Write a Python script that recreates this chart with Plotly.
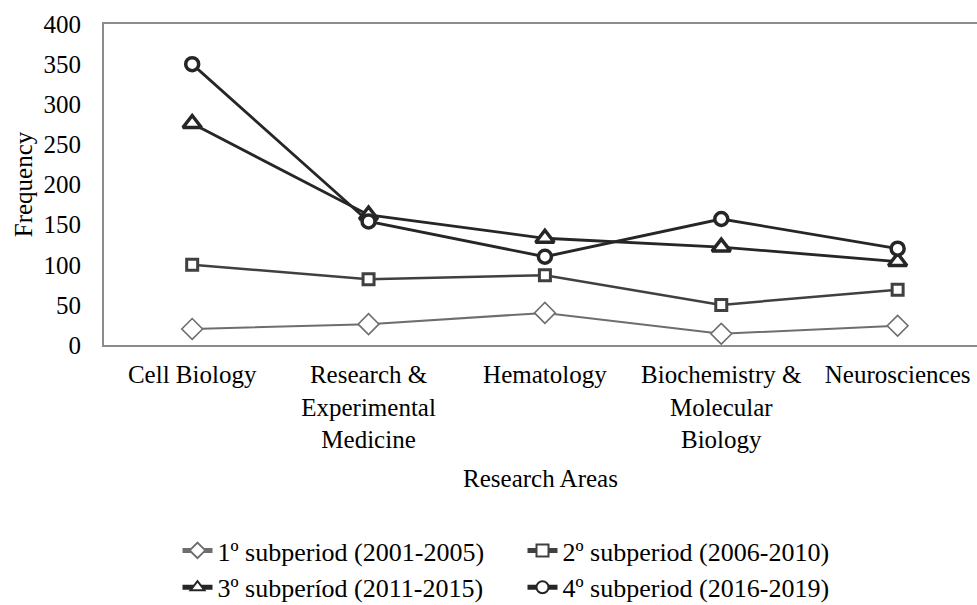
import plotly.graph_objects as go

categories = ["Cell Biology", "Research &<br>Experimental<br>Medicine", "Hematology",
              "Biochemistry &<br>Molecular<br>Biology", "Neurosciences"]
s1_name = "1º subperiod (2001-2005)"
s2_name = "2º subperiod (2006-2010)"
s3_name = "3º subperíod (2011-2015)"
s4_name = "4º subperiod (2016-2019)"
s1 = [20, 26, 40, 14, 24]
s2 = [100, 82, 87, 50, 69]
s3 = [276, 162, 133, 122, 104]
s4 = [350, 154, 110, 157, 120]
y_ticks = [0, 50, 100, 150, 200, 250, 300, 350, 400]

FONT = "Liberation Serif"
FS = 25

fig = go.Figure()
fig.add_trace(go.Scatter(x=categories, y=s1, name=s1_name, mode="lines+markers",
                         line=dict(color="#6e6e6e", width=2),
                         marker=dict(symbol="diamond", size=16, color="white",
                                     line=dict(color="#6e6e6e", width=1.6))))
fig.add_trace(go.Scatter(x=categories, y=s2, name=s2_name, mode="lines+markers",
                         line=dict(color="#404040", width=2.5),
                         marker=dict(symbol="square", size=11, color="white",
                                     line=dict(color="#404040", width=3))))
fig.add_trace(go.Scatter(x=categories, y=s3, name=s3_name, mode="lines+markers",
                         line=dict(color="#262626", width=2.8),
                         marker=dict(symbol="triangle-up", size=16, color="white",
                                     line=dict(color="#262626", width=3.5))))
fig.add_trace(go.Scatter(x=categories, y=s4, name=s4_name, mode="lines+markers",
                         line=dict(color="#262626", width=2.8),
                         marker=dict(symbol="circle", size=13, color="white",
                                     line=dict(color="#262626", width=3.5))))

fig.update_layout(
    width=977, height=605,
    margin=dict(l=104, r=0, t=24, b=260, autoexpand=False),
    paper_bgcolor="white", plot_bgcolor="white",
    font=dict(family=FONT, size=FS, color="black"),
    showlegend=True,
    legend=dict(orientation="h", xref="container", yref="container",
                x=0.5 + 34 / 977, xanchor="center", y=1 - 527 / 605, yanchor="top",
                entrywidth=300, entrywidthmode="pixels",
                font=dict(family=FONT, size=26, color="black"),
                tracegroupgap=0, itemsizing="constant"),
    xaxis=dict(type="category", range=[-0.5, 4.45], showline=True, mirror=True,
               linecolor="#8c8c8c", linewidth=2, showgrid=False, zeroline=False,
               ticks="", ticklabelstandoff=6, automargin=False,
               tickfont=dict(family=FONT, size=FS),
               title=dict(text="Research Areas", standoff=17,
                          font=dict(family=FONT, size=FS))),
    yaxis=dict(range=[0, 400], tickvals=y_ticks, showline=True, mirror=False,
               linecolor="#8c8c8c", linewidth=2, showgrid=False, zeroline=False,
               ticks="", ticklabelstandoff=16, automargin=False,
               title=dict(text="Frequency", standoff=4,
                          font=dict(family=FONT, size=FS))),
)

fig.write_html("out.html",
               config={"displayModeBar": False},
               post_script="document.body.style.margin='0px';document.body.style.overflow='hidden';")
